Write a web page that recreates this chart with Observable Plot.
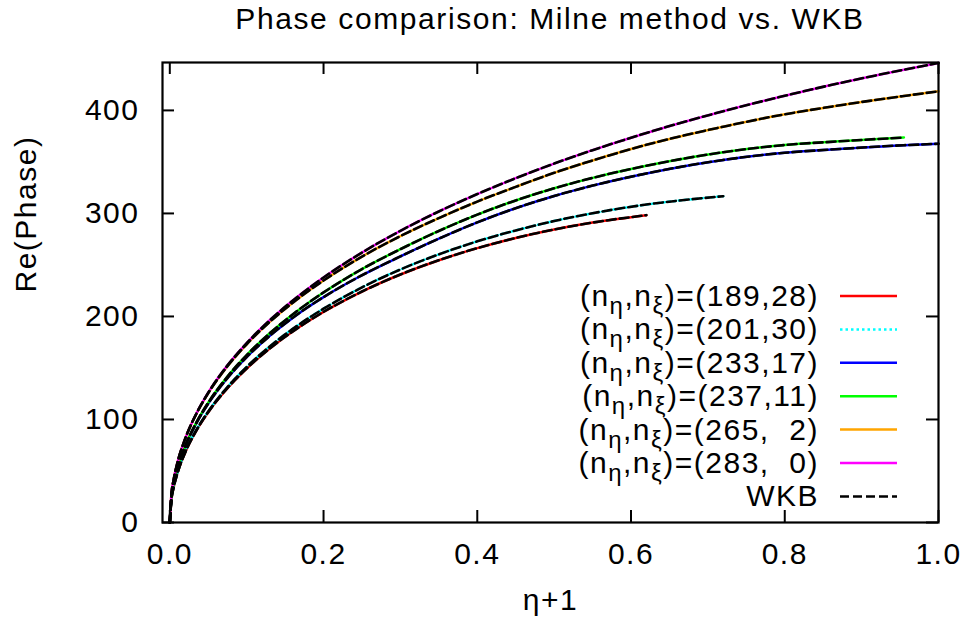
<!DOCTYPE html>
<html><head><meta charset="utf-8">
<script src="https://cdn.jsdelivr.net/npm/d3@7"></script>
<script src="https://cdn.jsdelivr.net/npm/@observablehq/plot@0.6"></script>
<style>
body{margin:0;background:#fff;font-family:"Liberation Sans",Arial,sans-serif;}
#title{height:44px;width:964px;box-sizing:border-box;padding:4px 26px 0 162px;text-align:center;font-size:30px;line-height:30px;letter-spacing:1.6px;color:#000;white-space:nowrap;}
#chart svg{display:block;}
</style></head><body>
<div id="title">Phase comparison: Milne method vs. WKB</div>
<div id="chart"></div>
<script>
// shared abscissa (eta+1)
const eta = [0, 0.002, 0.005, 0.01, 0.02, 0.035, 0.05, 0.075, 0.1, 0.13, 0.165, 0.2, 0.25, 0.3, 0.35, 0.4, 0.45, 0.5, 0.55, 0.62, 0.72, 0.8, 0.86, 0.955, 1.0];
// Re(Phase) for each (n_eta, n_xi)
const phase189_28 = [0, 21.5, 34.0, 48.1, 68.0, 89.8, 107.1, 130.4, 149.5, 168.8, 188.0, 204.4, 224.2, 240.7, 254.6, 266.3, 276.2, 284.4, 291.1, 298.3];
const phase201_30 = [0, 21.5, 34.0, 48.2, 68.3, 90.3, 107.8, 131.5, 151.0, 170.9, 190.6, 207.5, 228.2, 245.6, 260.3, 272.9, 283.5, 292.6, 300.2, 308.6, 316.7];
const phase233_17 = [0, 23.5, 37.1, 52.3, 73.7, 97.0, 115.4, 140.2, 160.5, 181.1, 201.5, 218.8, 240.0, 258.3, 275.5, 291.3, 305.1, 316.9, 327.0, 338.8, 351.9, 358.9, 362.0, 366.2, 367.6];
const phase237_11 = [0, 23.5, 37.2, 52.5, 74.1, 97.7, 116.4, 141.7, 162.5, 183.7, 204.9, 223.3, 246.0, 265.3, 283.0, 298.8, 312.6, 324.4, 334.5, 346.3, 359.4, 366.4, 369.5, 373.7];
const phase265_2 = [0, 26.3, 41.3, 58.1, 81.2, 106.2, 125.6, 151.8, 173.0, 194.7, 216.2, 234.9, 258.1, 278.0, 295.5, 311.5, 325.8, 339.4, 351.4, 366.6, 384.2, 396.2, 403.6, 414.0, 418.5];
const phase283_0 = [0, 26.3, 41.3, 58.1, 81.3, 106.4, 126.0, 152.5, 174.1, 196.3, 218.4, 237.8, 262.0, 283.1, 301.9, 318.8, 334.2, 348.4, 361.4, 378.1, 399.2, 414.2, 424.6, 439.5, 446.0];

const legendPairs = ["189,28", "201,30", "233,17", "237,11", "265,  2", "283,  0"];
const seriesColors = ["#ff0000", "#00ffff", "#0000ff", "#00ff00", "#ffa500", "#ff00ff"];
const xTicks = [0, 0.2, 0.4, 0.6, 0.8, 1.0];
const yTicks = [0, 100, 200, 300, 400];

const allPhases = [phase189_28, phase201_30, phase233_17, phase237_11, phase265_2, phase283_0];
const series = allPhases.map((vals, i) => vals.map((p, j) => ({eta: eta[j], phase: p, s: i})));

const W = 964, H = 588, mL = 162, mR = 26, mT = 18, mB = 110;
const fw = W - mL - mR, fh = H - mT - mB;

const marks = [];
series.forEach((rows, i) => {
  marks.push(Plot.line(rows, {x: "eta", y: "phase", stroke: seriesColors[i], strokeWidth: 2.5,
    curve: "monotone-x", strokeDasharray: i === 1 ? "2.5,3" : null}));
});
series.forEach((rows) => {
  marks.push(Plot.line(rows, {x: "eta", y: "phase", stroke: "black", strokeWidth: 2.6,
    curve: "monotone-x", strokeDasharray: "9,4"}));
});

const chart = Plot.plot({
  width: W, height: H,
  marginLeft: mL, marginRight: mR, marginTop: mT, marginBottom: mB,
  style: {fontFamily: "'Liberation Sans', Arial, sans-serif", fontSize: "30px", color: "black", background: "white", letterSpacing: "1.5px"},
  x: {domain: [-0.0095, 1.0]},
  y: {domain: [0, 446.5]},
  marks: [
    ...marks,
    Plot.tickX(xTicks, {x: d => d, insetTop: fh - 12, stroke: "black", strokeWidth: 2}),
    Plot.tickX(xTicks, {x: d => d, insetBottom: fh - 12, stroke: "black", strokeWidth: 2}),
    Plot.tickY(yTicks, {y: d => d, insetRight: fw - 12, stroke: "black", strokeWidth: 2}),
    Plot.tickY(yTicks, {y: d => d, insetLeft: fw - 12, stroke: "black", strokeWidth: 2}),
    Plot.frame({stroke: "black", strokeWidth: 2.2}),
    Plot.axisX(xTicks, {tickSize: 0, tickPadding: 20, tickFormat: d3.format(".1f"), label: null, fontSize: 30}),
    Plot.axisY(yTicks, {tickSize: 0, tickPadding: 23, label: null, fontSize: 30}),
    Plot.text(["η+1"], {text: d => d, frameAnchor: "bottom", dy: 87, fontSize: 30}),
    Plot.text(["Re(Phase)"], {text: d => d, frameAnchor: "left", dx: -136, rotate: -90, fontSize: 30})
  ]
});
document.getElementById("chart").appendChild(chart);

// legend (inside the frame, lower right)
const svg = d3.select(chart);
const right = W - mR;
const g = svg.append("g").attr("font-size", 30).attr("font-family", "'Liberation Sans', Arial, sans-serif");
const entries = legendPairs.map((p, i) => ({kind: "pair", p, color: seriesColors[i], dash: i === 1 ? "2.5,3" : null}));
entries.push({kind: "wkb", color: "black", dash: "9,4"});
entries.forEach((e, i) => {
  const cy = 252 + 33.4 * i;
  const t = g.append("text").attr("x", right - 119).attr("y", cy + 10).attr("text-anchor", "end").style("white-space", "pre");
  if (e.kind === "pair") {
    t.append("tspan").text("(n");
    t.append("tspan").attr("dy", 8).attr("font-size", 24).text("η");
    t.append("tspan").attr("dy", -8).text(",n");
    t.append("tspan").attr("dy", 8).attr("font-size", 24).text("ξ");
    t.append("tspan").attr("dy", -8).text(")=(" + e.p + ")");
  } else {
    t.text("WKB");
  }
  g.append("line").attr("x1", right - 98).attr("x2", right - 41).attr("y1", cy).attr("y2", cy)
    .attr("stroke", e.color).attr("stroke-width", 2.5).attr("stroke-dasharray", e.dash);
});
</script>
</body></html>
